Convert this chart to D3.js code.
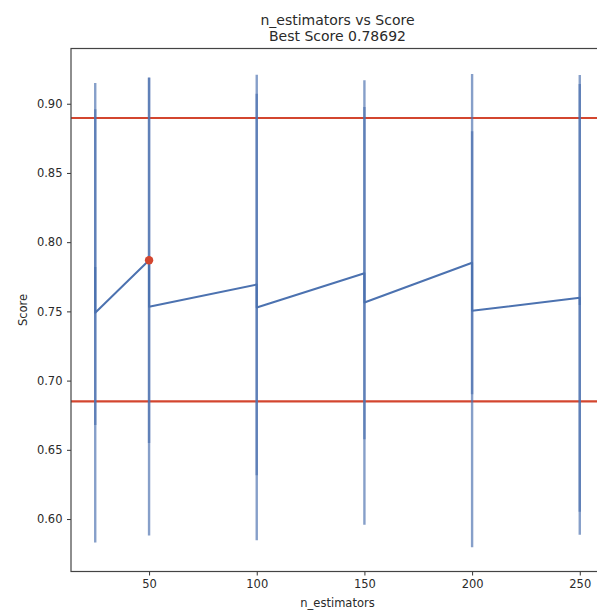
<!DOCTYPE html>
<html>
<head>
<meta charset="utf-8">
<script src="https://d3js.org/d3.v7.min.js"></script>
<style>
  html, body { margin: 0; padding: 0; background: #fff; overflow: hidden; }
  svg { display: block; font-family: "DejaVu Sans", sans-serif; }
</style>
</head>
<body>
<svg id="chart" width="597" height="614"></svg>
<script>
// Grid-search results: n_estimators vs mean CV score, two runs per setting
const nEstimators = [25, 25, 50, 50, 100, 100, 150, 150, 200, 200, 250, 250];
const meanScore   = [0.782, 0.749, 0.78692, 0.7534, 0.7694, 0.7528, 0.7776, 0.7564, 0.7851, 0.7505, 0.7598, 0.7547];
const stdScore    = [0.114, 0.166, 0.132, 0.1653, 0.1378, 0.1682, 0.120, 0.1606, 0.095, 0.1709, 0.1545, 0.166];
const refLines    = [0.8897, 0.685];
const bestScore   = 0.78692;
const bestN       = 50;
const xTicks      = [50, 100, 150, 200, 250];
const yTicks      = [0.60, 0.65, 0.70, 0.75, 0.80, 0.85, 0.90];
const xLimits     = [13.75, 261.25];
const yLimits     = [0.5621, 0.9399];

const svg = d3.select("#chart");
const plotLeft = 71, plotRight = 604, plotTop = 48.5, plotBottom = 571.5;

const x = d3.scaleLinear().domain(xLimits).range([plotLeft, plotRight]);
const y = d3.scaleLinear().domain(yLimits).range([plotBottom, plotTop]);

const blue = "#4c72b0";
const red = "#d3462f";
const textColor = "#2a2a2a";

const data = nEstimators.map((n, i) => ({ n, m: meanScore[i], s: stdScore[i] }));

const plot = svg.append("g");

// reference lines
plot.selectAll("line.ref").data(refLines).join("line")
  .attr("class", "ref")
  .attr("x1", plotLeft).attr("x2", plotRight)
  .attr("y1", d => y(d)).attr("y2", d => y(d))
  .attr("stroke", red).attr("stroke-width", 2.2);

// error bars (semi-transparent so overlaps darken)
plot.selectAll("line.err").data(data).join("line")
  .attr("class", "err")
  .attr("x1", d => x(d.n)).attr("x2", d => x(d.n))
  .attr("y1", d => y(d.m - d.s)).attr("y2", d => y(d.m + d.s))
  .attr("stroke", blue).attr("stroke-width", 2.4).attr("stroke-opacity", 0.68);

// mean score line
plot.append("path")
  .datum(data)
  .attr("fill", "none")
  .attr("stroke", blue)
  .attr("stroke-width", 2)
  .attr("stroke-linejoin", "round")
  .attr("d", d3.line().x(d => x(d.n)).y(d => y(d.m)));

// best score marker
plot.append("circle")
  .attr("cx", x(bestN)).attr("cy", y(bestScore)).attr("r", 4.2)
  .attr("fill", red);

// axes
const xAxis = d3.axisBottom(x).tickValues(xTicks).tickSize(4).tickPadding(4).tickFormat(d3.format("d"));
const yAxis = d3.axisLeft(y).tickValues(yTicks).tickSize(4).tickPadding(4.5).tickFormat(d3.format(".2f"));

const gx = svg.append("g").attr("transform", `translate(0,${plotBottom})`).call(xAxis);
const gy = svg.append("g").attr("transform", `translate(${plotLeft},0)`).call(yAxis);
[gx, gy].forEach(g => {
  g.select(".domain").remove();
  g.selectAll(".tick line").attr("stroke", "#333").attr("stroke-width", 1);
  g.selectAll(".tick text").attr("fill", textColor).style("font-size", "11.5px")
    .style("font-family", "'DejaVu Sans', sans-serif");
});

// frame (top, left, bottom spines; right edge falls outside the view)
svg.append("rect")
  .attr("x", plotLeft).attr("y", plotTop)
  .attr("width", plotRight - plotLeft).attr("height", plotBottom - plotTop)
  .attr("fill", "none").attr("stroke", "#444").attr("stroke-width", 1.2);

// titles
const cx = (plotLeft + plotRight) / 2;
svg.append("text").attr("x", cx).attr("y", 24.5).attr("text-anchor", "middle")
  .style("font-size", "14px").attr("fill", textColor).text("n_estimators vs Score");
svg.append("text").attr("x", cx).attr("y", 41).attr("text-anchor", "middle")
  .style("font-size", "14px").attr("fill", textColor).text("Best Score 0.78692");

svg.append("text").attr("x", cx).attr("y", 607).attr("text-anchor", "middle")
  .style("font-size", "11.5px").attr("fill", textColor).text("n_estimators");
svg.append("text")
  .attr("transform", `translate(27,${(plotTop + plotBottom) / 2}) rotate(-90)`)
  .attr("text-anchor", "middle")
  .style("font-size", "11.5px").attr("fill", textColor).text("Score");
</script>
</body>
</html>
